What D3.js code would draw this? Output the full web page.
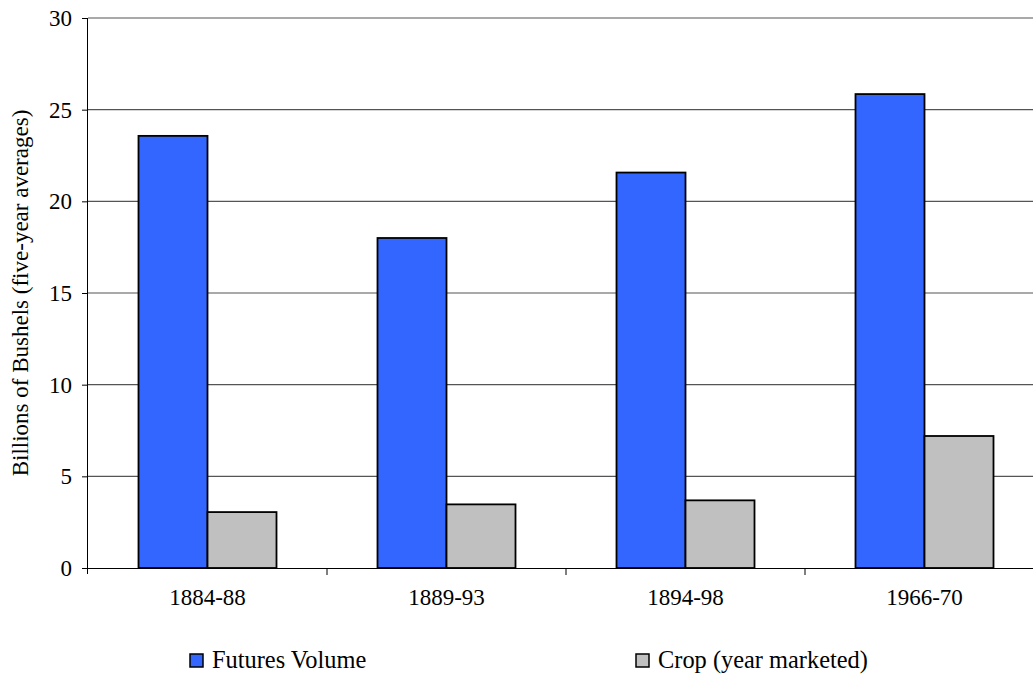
<!DOCTYPE html>
<html>
<head>
<meta charset="utf-8">
<script src="https://cdn.jsdelivr.net/npm/d3@7"></script>
<style>
  body { margin: 0; background: #fff; }
  svg text { font-family: "Liberation Serif", "Times New Roman", "DejaVu Serif", serif; fill: #000; }
</style>
</head>
<body>
<script>
"use strict";

var periods = ["1884-88", "1889-93", "1894-98", "1966-70"];
var futuresVolume = [23.57, 18.0, 21.57, 25.85];
var cropMarketed = [3.05, 3.47, 3.69, 7.2];
var yTicks = [0, 5, 10, 15, 20, 25, 30];
var seriesNames = ["Futures Volume", "Crop (year marketed)"];
var seriesColors = ["#3366ff", "#c0c0c0"];

var width = 1033, height = 700;
var margin = {top: 18, left: 88, bottom: 132};
var plotW = 956;
var plotH = height - margin.top - margin.bottom;
var fontSize = "23px";

var svg = d3.select("body").append("svg")
    .attr("width", width)
    .attr("height", height);

var g = svg.append("g")
    .attr("transform", "translate(" + margin.left + "," + margin.top + ")");

var x = d3.scaleBand().domain(periods).range([0, plotW])
    .paddingInner(0.4226).paddingOuter(0.2113);
var xs = d3.scaleBand().domain([0, 1]).range([0, x.bandwidth()]);
var y = d3.scaleLinear().domain([0, 30]).range([plotH, 0]);

// gridlines
g.selectAll(".grid")
    .data(yTicks.slice(1))
    .enter().append("line")
    .attr("class", "grid")
    .attr("x1", 0).attr("x2", plotW)
    .attr("y1", function(d) { return y(d); })
    .attr("y2", function(d) { return y(d); })
    .attr("stroke", "#555")
    .attr("stroke-width", 1.2);

// bars
var data = periods.map(function(p, i) {
    return {period: p, values: [futuresVolume[i], cropMarketed[i]]};
});

var groups = g.selectAll(".group")
    .data(data)
    .enter().append("g")
    .attr("transform", function(d) { return "translate(" + x(d.period) + ",0)"; });

groups.selectAll("rect")
    .data(function(d) { return d.values; })
    .enter().append("rect")
    .attr("x", function(d, i) { return xs(i); })
    .attr("y", function(d) { return y(d); })
    .attr("width", xs.bandwidth())
    .attr("height", function(d) { return plotH - y(d); })
    .attr("fill", function(d, i) { return seriesColors[i]; })
    .attr("stroke", "#000")
    .attr("stroke-width", 1.8);

// y axis
var yAxis = g.append("g")
    .call(d3.axisLeft(y).tickValues(yTicks).tickSize(6).tickPadding(10));
yAxis.attr("font-family", null);
yAxis.select(".domain").attr("d", "M-0.5," + (plotH + 6) + "V0").attr("stroke", "#000");
yAxis.selectAll("line").attr("stroke", "#000");
yAxis.selectAll("text").attr("font-size", fontSize);

// x axis
var xAxis = g.append("g")
    .attr("transform", "translate(0," + plotH + ")")
    .call(d3.axisBottom(x).tickSize(0).tickPadding(21));
xAxis.attr("font-family", null);
xAxis.select(".domain").attr("d", "M0,0.5H" + plotW).attr("stroke", "#000");
xAxis.selectAll("text").attr("font-size", fontSize);

// category boundary ticks
g.selectAll(".xtick")
    .data(periods.slice(1))
    .enter().append("line")
    .attr("x1", function(d) { return x(d) - x.step() * x.paddingInner() / 2; })
    .attr("x2", function(d) { return x(d) - x.step() * x.paddingInner() / 2; })
    .attr("y1", plotH).attr("y2", plotH + 7)
    .attr("stroke", "#000");

// y label
svg.append("text")
    .attr("transform", "translate(28," + (margin.top + plotH / 2) + ") rotate(-90)")
    .attr("text-anchor", "middle")
    .attr("font-size", fontSize)
    .text("Billions of Bushels (five-year averages)");

// legend
var legendX = [190, 636];
var legend = svg.selectAll(".legend")
    .data(seriesNames)
    .enter().append("g")
    .attr("transform", function(d, i) { return "translate(" + legendX[i] + ",654)"; });

legend.append("rect")
    .attr("width", 13).attr("height", 13)
    .attr("fill", function(d, i) { return seriesColors[i]; })
    .attr("stroke", "#000")
    .attr("stroke-width", 1.5);

legend.append("text")
    .attr("x", 22).attr("y", 14)
    .attr("font-size", "24.4px")
    .text(function(d) { return d; });
</script>
</body>
</html>
